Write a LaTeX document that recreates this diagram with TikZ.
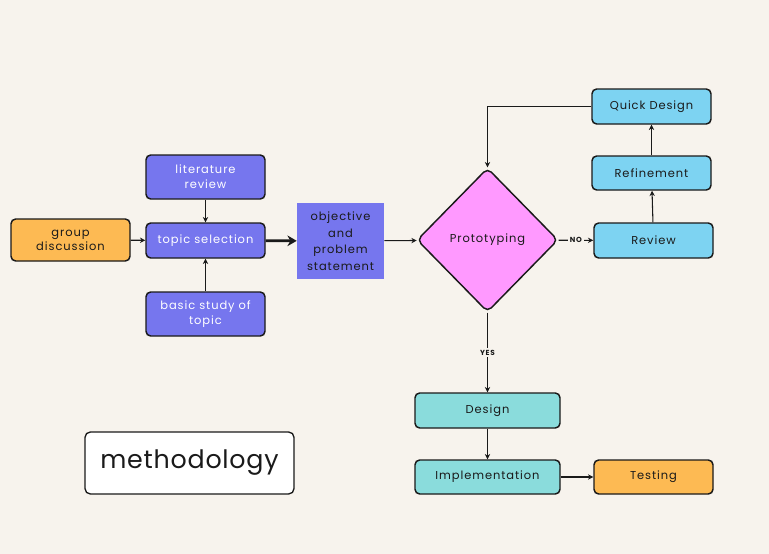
\documentclass[tikz,border=0pt]{standalone}
\usepackage{fontspec}
\setmainfont{Poppins}[LetterSpace=8]
\newfontfamily\titlefont{Poppins}[LetterSpace=3]
\usetikzlibrary{shapes.geometric,arrows.meta}
\definecolor{bg}{HTML}{F7F3ED}
\definecolor{violet}{HTML}{7676EE}
\definecolor{orangeb}{HTML}{FDBA53}
\definecolor{pinkd}{HTML}{FF99FF}
\definecolor{skyb}{HTML}{7DD3F2}
\definecolor{tealb}{HTML}{8ADCDC}
\definecolor{ink}{HTML}{1A1A1A}
\tikzset{
  px/.style={x=0.75pt,y=-0.75pt},
  box/.style={draw=ink,line width=1.1pt,rounded corners=3.5pt,inner sep=0pt,align=center,font=\fontsize{8.6}{11.5}\selectfont},
  vbox/.style={box,fill=violet,text=white},
  obox/.style={box,fill=orangeb,text=ink},
  sbox/.style={box,fill=skyb,text=ink},
  tbox/.style={box,fill=tealb,text=ink},
  conn/.style={draw=ink,line width=0.8pt,-{Stealth[length=4pt,width=4pt]}},
  lbl/.style={font=\fontsize{5.5}{6}\selectfont\bfseries,text=ink,fill=bg,inner sep=1.5pt}
}
\begin{document}
\begin{tikzpicture}[px]
\fill[bg] (0,0) rectangle (769,554);
\useasboundingbox (0,0) rectangle (769,554);
\node[obox,minimum width=89.25pt,minimum height=31.5pt,font=\fontsize{8.6}{10.5}\selectfont] (gd) at (70.5,240) {group\\discussion};
\node[vbox,minimum width=89.25pt,minimum height=33pt] (lr) at (205.5,177) {literature\\review};
\node[vbox,minimum width=89.25pt,minimum height=26.25pt] (ts) at (205.5,240.5) {topic selection};
\node[vbox,minimum width=89.25pt,minimum height=33pt] (bs) at (205.5,314) {basic study of\\topic};
\node[fill=violet,text=ink,minimum width=65.25pt,minimum height=57pt,inner sep=0pt,align=center,font=\fontsize{8.6}{12.4}\selectfont] (ob) at (340.5,241) {objective\\and\\problem\\statement};
\node[diamond,draw=ink,line width=1.1pt,fill=pinkd,rounded corners=4pt,minimum width=105.75pt,minimum height=108pt,inner sep=0pt,text=ink,font=\fontsize{8.6}{10}\selectfont] (pr) at (487.5,240) {Prototyping};
\node[sbox,minimum width=89.25pt,minimum height=26.25pt] (qd) at (651.5,106.5) {Quick Design};
\node[sbox,minimum width=89.25pt,minimum height=25.5pt] (rf) at (651.5,173) {Refinement};
\node[sbox,minimum width=89.25pt,minimum height=26.25pt] (rv) at (653.5,240.5) {Review};
\node[tbox,minimum width=108.75pt,minimum height=26.25pt] (de) at (487.5,410.5) {Design};
\node[tbox,minimum width=108.75pt,minimum height=25.5pt] (im) at (487.5,477) {Implementation};
\node[obox,minimum width=89.25pt,minimum height=25.5pt] (te) at (653.5,477) {Testing};
\node[draw=ink,line width=1pt,fill=white,rounded corners=4pt,minimum width=156.75pt,minimum height=46.5pt,font=\titlefont\fontsize{19}{20}\selectfont,text=ink] (me) at (189.5,463) {methodology};

\draw[conn] (gd) -- (ts);
\draw[conn] (lr) -- (ts);
\draw[conn] (bs) -- (ts);
\draw[draw=ink,line width=2pt,-{Stealth[length=7pt,width=8pt]}] (ts) -- (ob);
\draw[conn] (ob) -- (pr);
\draw[conn] (pr) -- node[lbl]{NO} (rv);
\draw[conn] (rv) -- (rf);
\draw[conn] (rf) -- (qd);
\draw[conn] (qd.west) -| (pr.north);
\draw[conn] (pr) -- node[lbl]{YES} (de);
\draw[conn] (de) -- (im);
\draw[conn] (im) -- (te);
\end{tikzpicture}
\end{document}
